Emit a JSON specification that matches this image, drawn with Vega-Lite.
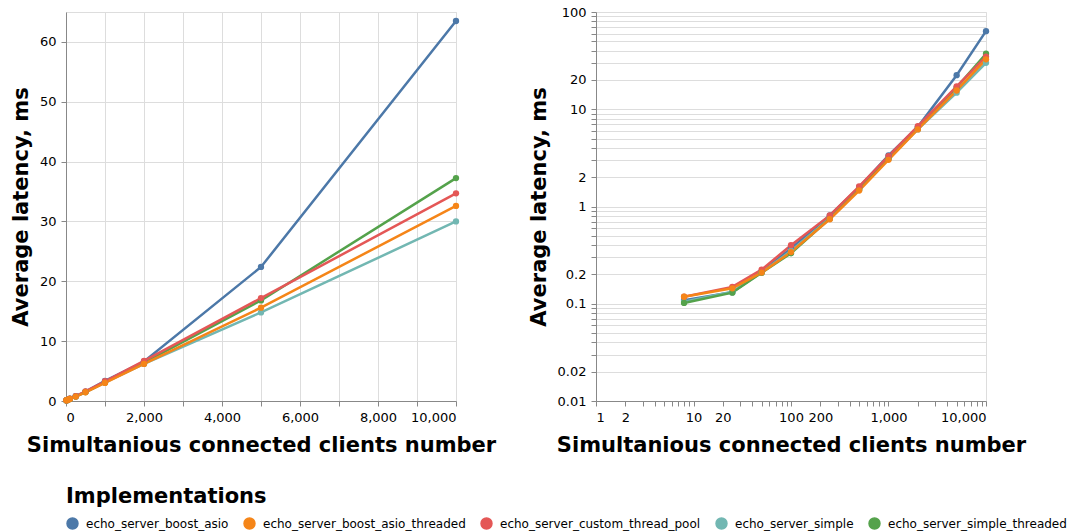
{
  "$schema": "https://vega.github.io/schema/vega-lite/v6.json",
  "padding": {"left": 9, "top": 5, "right": 0, "bottom": 5},
  "data": {
    "values": [
      {"impl": "echo_server_boost_asio", "clients": 8, "latency": 0.109},
      {"impl": "echo_server_boost_asio", "clients": 25, "latency": 0.131},
      {"impl": "echo_server_boost_asio", "clients": 50, "latency": 0.215},
      {"impl": "echo_server_boost_asio", "clients": 100, "latency": 0.37},
      {"impl": "echo_server_boost_asio", "clients": 250, "latency": 0.81},
      {"impl": "echo_server_boost_asio", "clients": 500, "latency": 1.58},
      {"impl": "echo_server_boost_asio", "clients": 1000, "latency": 3.35},
      {"impl": "echo_server_boost_asio", "clients": 2000, "latency": 6.6},
      {"impl": "echo_server_boost_asio", "clients": 5000, "latency": 22.4},
      {"impl": "echo_server_boost_asio", "clients": 10000, "latency": 63.5},
      {"impl": "echo_server_simple", "clients": 8, "latency": 0.105},
      {"impl": "echo_server_simple", "clients": 25, "latency": 0.133},
      {"impl": "echo_server_simple", "clients": 50, "latency": 0.21},
      {"impl": "echo_server_simple", "clients": 100, "latency": 0.35},
      {"impl": "echo_server_simple", "clients": 250, "latency": 0.76},
      {"impl": "echo_server_simple", "clients": 500, "latency": 1.5},
      {"impl": "echo_server_simple", "clients": 1000, "latency": 3.1},
      {"impl": "echo_server_simple", "clients": 2000, "latency": 6.2},
      {"impl": "echo_server_simple", "clients": 5000, "latency": 14.8},
      {"impl": "echo_server_simple", "clients": 10000, "latency": 30.0},
      {"impl": "echo_server_simple_threaded", "clients": 8, "latency": 0.102},
      {"impl": "echo_server_simple_threaded", "clients": 25, "latency": 0.13},
      {"impl": "echo_server_simple_threaded", "clients": 50, "latency": 0.208},
      {"impl": "echo_server_simple_threaded", "clients": 100, "latency": 0.33},
      {"impl": "echo_server_simple_threaded", "clients": 250, "latency": 0.75},
      {"impl": "echo_server_simple_threaded", "clients": 500, "latency": 1.5},
      {"impl": "echo_server_simple_threaded", "clients": 1000, "latency": 3.1},
      {"impl": "echo_server_simple_threaded", "clients": 2000, "latency": 6.4},
      {"impl": "echo_server_simple_threaded", "clients": 5000, "latency": 16.8},
      {"impl": "echo_server_simple_threaded", "clients": 10000, "latency": 37.25},
      {"impl": "echo_server_custom_thread_pool", "clients": 8, "latency": 0.118},
      {"impl": "echo_server_custom_thread_pool", "clients": 25, "latency": 0.149},
      {"impl": "echo_server_custom_thread_pool", "clients": 50, "latency": 0.224},
      {"impl": "echo_server_custom_thread_pool", "clients": 100, "latency": 0.4},
      {"impl": "echo_server_custom_thread_pool", "clients": 250, "latency": 0.81},
      {"impl": "echo_server_custom_thread_pool", "clients": 500, "latency": 1.61},
      {"impl": "echo_server_custom_thread_pool", "clients": 1000, "latency": 3.3},
      {"impl": "echo_server_custom_thread_pool", "clients": 2000, "latency": 6.7},
      {"impl": "echo_server_custom_thread_pool", "clients": 5000, "latency": 17.2},
      {"impl": "echo_server_custom_thread_pool", "clients": 10000, "latency": 34.7},
      {"impl": "echo_server_boost_asio_threaded", "clients": 8, "latency": 0.118},
      {"impl": "echo_server_boost_asio_threaded", "clients": 25, "latency": 0.144},
      {"impl": "echo_server_boost_asio_threaded", "clients": 50, "latency": 0.209},
      {"impl": "echo_server_boost_asio_threaded", "clients": 100, "latency": 0.34},
      {"impl": "echo_server_boost_asio_threaded", "clients": 250, "latency": 0.74},
      {"impl": "echo_server_boost_asio_threaded", "clients": 500, "latency": 1.46},
      {"impl": "echo_server_boost_asio_threaded", "clients": 1000, "latency": 3.02},
      {"impl": "echo_server_boost_asio_threaded", "clients": 2000, "latency": 6.2},
      {"impl": "echo_server_boost_asio_threaded", "clients": 5000, "latency": 15.6},
      {"impl": "echo_server_boost_asio_threaded", "clients": 10000, "latency": 32.6}
    ]
  },
  "config": {
    "font": "DejaVu Sans",
    "axis": {"labelFontSize": 13, "titleFontSize": 21, "titleFontWeight": "bold", "labelPadding": 5},
    "axisX": {"titlePadding": 10},
    "axisY": {"titlePadding": 8},
    "legend": {
      "titleFontSize": 21, "titleFontWeight": "bold", "titleLimit": 0, "titlePadding": 10,
      "labelFontSize": 12, "labelLimit": 0, "labelOffset": 7,
      "symbolType": "circle", "symbolSize": 120,
      "columnPadding": 12, "offset": 30,
      "orient": "bottom", "direction": "horizontal"
    }
  },
  "spacing": 30,
  "hconcat": [
    {
      "width": 390,
      "height": 389,
      "mark": {"type": "line", "strokeWidth": 2.5, "point": {"size": 40}},
      "encoding": {
        "x": {"field": "clients", "type": "quantitative", "scale": {"domain": [0, 10000]}, "axis": {"title": "Simultanious connected clients number", "labelSeparation": 4}},
        "y": {"field": "latency", "type": "quantitative", "scale": {"domain": [0, 65]}, "axis": {"title": "Average latency, ms", "values": [0, 10, 20, 30, 40, 50, 60]}},
        "color": {"field": "impl", "type": "nominal", "title": "Implementations"}
      }
    },
    {
      "width": 390,
      "height": 389,
      "mark": {"type": "line", "strokeWidth": 2.5, "point": {"size": 40}},
      "encoding": {
        "x": {"field": "clients", "type": "quantitative", "scale": {"type": "log", "domain": [1, 10000]}, "axis": {"title": "Simultanious connected clients number", "grid": false}},
        "y": {"field": "latency", "type": "quantitative", "scale": {"type": "log", "domain": [0.01, 100]}, "axis": {"title": "Average latency, ms"}},
        "color": {"field": "impl", "type": "nominal", "title": "Implementations"}
      }
    }
  ]
}
